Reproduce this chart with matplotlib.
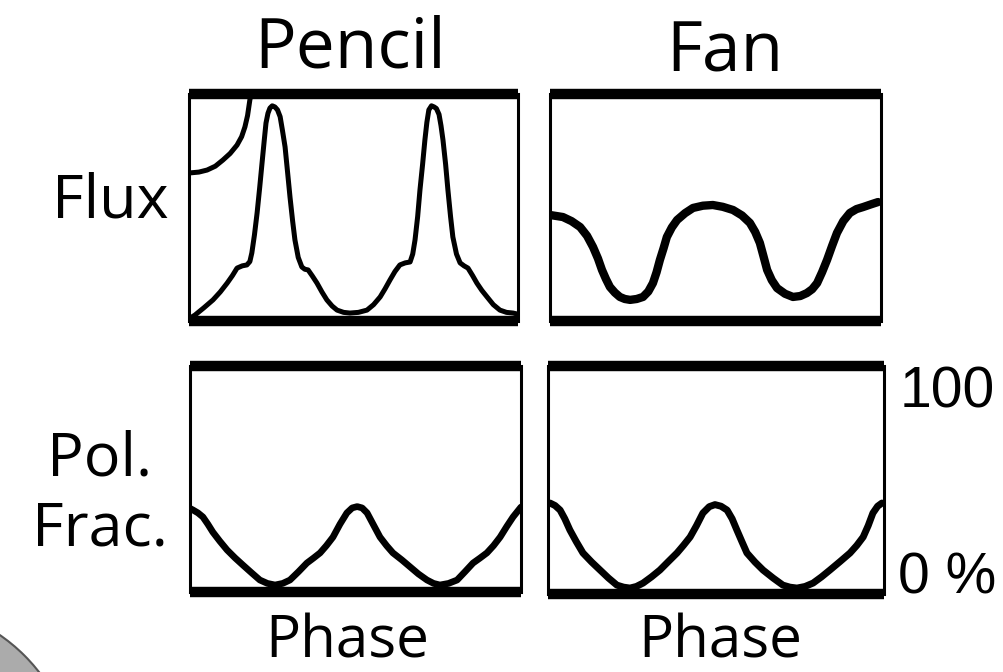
import matplotlib.pyplot as plt
import matplotlib.patches as mpatches
import numpy as np

# phase / level pairs (level 0 = bottom bar, 1 = top bar)
pencil_flux_phase = [0.0, 0.018, 0.045, 0.073, 0.095, 0.116, 0.132, 0.146, 0.162, 0.176, 0.185,
                     0.191, 0.199, 0.207, 0.215, 0.222, 0.229, 0.234, 0.240, 0.246, 0.253,
                     0.261, 0.269, 0.277, 0.284, 0.292, 0.300, 0.307, 0.315, 0.322, 0.332,
                     0.343, 0.352, 0.362, 0.375, 0.389, 0.404, 0.419, 0.435, 0.450, 0.470,
                     0.489, 0.515, 0.541, 0.561, 0.581, 0.596, 0.611, 0.626, 0.641, 0.657,
                     0.672, 0.680, 0.687, 0.695, 0.702, 0.710, 0.717, 0.723, 0.729, 0.737,
                     0.745, 0.752, 0.760, 0.766, 0.772, 0.780, 0.787, 0.795, 0.802, 0.813,
                     0.824, 0.836, 0.848, 0.862, 0.875, 0.890, 0.906, 0.925, 0.945, 0.965,
                     0.985, 1.0]
pencil_flux_level = [0.01, 0.026, 0.058, 0.093, 0.128, 0.167, 0.200, 0.233, 0.243, 0.247, 0.262,
                     0.300, 0.380, 0.476, 0.590, 0.696, 0.800, 0.872, 0.915, 0.938, 0.948,
                     0.943, 0.930, 0.900, 0.840, 0.767, 0.650, 0.546, 0.440, 0.357, 0.280,
                     0.238, 0.228, 0.225, 0.198, 0.167, 0.128, 0.093, 0.066, 0.048, 0.038,
                     0.035, 0.038, 0.048, 0.072, 0.106, 0.142, 0.181, 0.218, 0.247, 0.256,
                     0.260, 0.295, 0.357, 0.460, 0.577, 0.690, 0.797, 0.875, 0.930, 0.948,
                     0.943, 0.936, 0.910, 0.860, 0.797, 0.690, 0.577, 0.460, 0.370, 0.295,
                     0.256, 0.243, 0.233, 0.200, 0.167, 0.135, 0.106, 0.072, 0.048, 0.038,
                     0.035, 0.03]

# second branch in the upper-left corner of the pencil flux panel
pencil_tail_phase = [0.0, 0.030, 0.055, 0.080, 0.103, 0.125, 0.146, 0.160, 0.170, 0.178, 0.185,
                     0.192]
pencil_tail_level = [0.652, 0.656, 0.665, 0.682, 0.709, 0.738, 0.775, 0.812, 0.855, 0.905, 0.974,
                     1.02]

fan_flux_phase = [0.0, 0.039, 0.065, 0.091, 0.112, 0.130, 0.145, 0.157, 0.169, 0.181, 0.196,
                  0.211, 0.226, 0.242, 0.262, 0.281, 0.297, 0.311, 0.322, 0.332, 0.343,
                  0.353, 0.368, 0.384, 0.408, 0.432, 0.462, 0.492, 0.522, 0.553, 0.580,
                  0.604, 0.620, 0.634, 0.645, 0.656, 0.670, 0.686, 0.710, 0.734, 0.756,
                  0.776, 0.792, 0.807, 0.822, 0.837, 0.852, 0.867, 0.886, 0.906, 0.926,
                  0.946, 0.970, 0.991]
fan_flux_level = [0.467, 0.458, 0.440, 0.414, 0.375, 0.326, 0.275, 0.225, 0.185, 0.150, 0.125,
                  0.106, 0.097, 0.093, 0.097, 0.106, 0.130, 0.167, 0.215, 0.269, 0.320,
                  0.370, 0.412, 0.445, 0.475, 0.498, 0.508, 0.511, 0.503, 0.489, 0.465,
                  0.432, 0.392, 0.344, 0.285, 0.225, 0.180, 0.145, 0.120, 0.106, 0.110,
                  0.123, 0.140, 0.167, 0.215, 0.269, 0.330, 0.388, 0.440, 0.476, 0.493,
                  0.502, 0.514, 0.524]

pencil_pol_phase = [0.0, 0.009, 0.024, 0.039, 0.054, 0.069, 0.090, 0.112, 0.136, 0.160, 0.186,
                    0.211, 0.234, 0.257, 0.280, 0.302, 0.328, 0.353, 0.373, 0.393, 0.412,
                    0.432, 0.453, 0.474, 0.490, 0.505, 0.520, 0.535, 0.555, 0.574, 0.594,
                    0.613, 0.640, 0.665, 0.690, 0.716, 0.736, 0.755, 0.781, 0.807, 0.831,
                    0.855, 0.876, 0.897, 0.917, 0.937, 0.957, 0.976, 1.0]
pencil_pol_level = [0.37, 0.363, 0.350, 0.332, 0.300, 0.265, 0.225, 0.186, 0.151, 0.119, 0.085,
                    0.053, 0.038, 0.031, 0.038, 0.053, 0.090, 0.128, 0.150, 0.173, 0.205,
                    0.243, 0.300, 0.350, 0.372, 0.378, 0.372, 0.350, 0.295, 0.243, 0.205,
                    0.173, 0.142, 0.111, 0.080, 0.053, 0.038, 0.031, 0.038, 0.053, 0.090,
                    0.128, 0.150, 0.173, 0.205, 0.243, 0.290, 0.332, 0.376]

fan_pol_phase = [0.006, 0.021, 0.036, 0.050, 0.065, 0.084, 0.104, 0.130, 0.155, 0.180, 0.205,
                 0.225, 0.244, 0.263, 0.283, 0.308, 0.333, 0.358, 0.384, 0.403, 0.423,
                 0.442, 0.461, 0.480, 0.497, 0.515, 0.533, 0.548, 0.562, 0.577, 0.592,
                 0.616, 0.640, 0.670, 0.699, 0.720, 0.741, 0.765, 0.789, 0.814, 0.839,
                 0.869, 0.899, 0.919, 0.938, 0.953, 0.967, 0.981, 0.994]
fan_pol_level = [0.399, 0.388, 0.368, 0.330, 0.281, 0.230, 0.180, 0.140, 0.105, 0.070, 0.039,
                 0.030, 0.026, 0.033, 0.048, 0.075, 0.105, 0.142, 0.180, 0.213, 0.250,
                 0.300, 0.355, 0.383, 0.392, 0.385, 0.368, 0.330, 0.281, 0.230, 0.180,
                 0.140, 0.105, 0.070, 0.039, 0.030, 0.026, 0.033, 0.048, 0.075, 0.105,
                 0.142, 0.180, 0.213, 0.250, 0.300, 0.355, 0.385, 0.399]

column_titles = ["Pencil", "Fan"]
row_labels = ["Flux", "Pol.\nFrac."]
axis_label = "Phase"
scale_labels = ["100", "0 %"]

plt.rcParams['font.family'] = ['Open Sans', 'DejaVu Sans']

W, H = 1004, 672
fig = plt.figure(figsize=(W / 100, H / 100), dpi=100)


def px_axes(x0, x1, ytop, ybot):
    ## axes from pixel box (y measured from top of the image)
    return fig.add_axes([x0 / W, 1 - ybot / H, (x1 - x0) / W, (ybot - ytop) / H])


def style(ax):
    ax.set_xlim(0, 1)
    ax.set_ylim(0, 1)
    ax.set_xticks([])
    ax.set_yticks([])
    for side in ['top', 'bottom']:
        ax.spines[side].set_linewidth(7.5)
        ax.spines[side].set_capstyle('butt')
    for side in ['left', 'right']:
        ax.spines[side].set_linewidth(2.2)


ax1 = px_axes(189, 518, 94, 321)
ax2 = px_axes(550, 881, 94, 321)
ax3 = px_axes(190, 521, 366, 592)
ax4 = px_axes(548, 884, 366, 594)
for ax in (ax1, ax2, ax3, ax4):
    style(ax)

line_kw = dict(color='black', solid_capstyle='round', solid_joinstyle='round')
ax1.plot(pencil_flux_phase, pencil_flux_level, lw=3.6, **line_kw)
ax1.plot(pencil_tail_phase, pencil_tail_level, lw=3.6, **line_kw)
ax2.plot(fan_flux_phase, fan_flux_level, lw=6.0, **line_kw)
ax3.plot(pencil_pol_phase, pencil_pol_level, lw=4.8, **line_kw)
ax4.plot(fan_pol_phase, fan_pol_level, lw=5.0, **line_kw)

# text
fig.text(350 / W, 1 - 68 / H, column_titles[0], fontsize=50, ha='center', va='baseline')
fig.text(725 / W, 1 - 72 / H, column_titles[1], fontsize=50, ha='center', va='baseline')
fig.text(110 / W, 1 - 218 / H, row_labels[0], fontsize=44, ha='center', va='baseline')
fig.text(100 / W, 1 - 545 / H, row_labels[1], fontsize=44, ha='center', va='baseline',
         multialignment='center', linespacing=1.2)
# bottom labels sit right on the lower edge of the image
fig.text(347 / W, 1 / H, axis_label, fontsize=42, ha='center', va='bottom')
fig.text(720 / W, 1 / H, axis_label, fontsize=42, ha='center', va='bottom')
fig.text(900 / W, 1 - 407 / H, scale_labels[0], fontsize=41, ha='left', va='baseline',
         family='Liberation Sans')
fig.text(898 / W, 1 - 593 / H, scale_labels[1], fontsize=41, ha='left', va='baseline',
         family='Liberation Sans')

# grey slide decoration in the bottom-left corner
corner = mpatches.Ellipse((-100 / W, 1 - 780 / H), 2 * 176 / W, 2 * 176 / H,
                          transform=fig.transFigure, facecolor='#ababab',
                          edgecolor='#555555', lw=1.5)
fig.add_artist(corner)

fig.savefig('out.png', dpi=100)
